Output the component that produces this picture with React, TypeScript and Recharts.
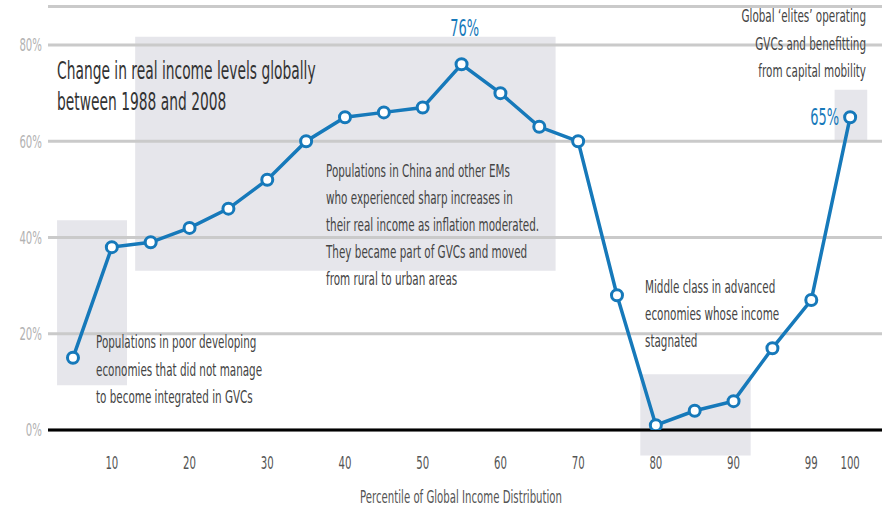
import React from "react"
import {
  LineChart,
  Line,
  XAxis,
  YAxis,
  CartesianGrid,
  ReferenceArea,
  LabelList,
} from "recharts"

// percentile of global income distribution (x categories)
const percentiles = [5, 10, 15, 20, 25, 30, 35, 40, 45, 50, 55, 60, 65, 70, 75, 80, 85, 90, 95, 99, 100]
// change in real income 1988-2008, %
const incomeChange = [15, 38, 39, 42, 46, 52, 60, 65, 66, 67, 76, 70, 63, 60, 28, 1, 4, 6, 17, 27, 65]
// labelled ticks on the x axis
const xTickLabels = [10, 20, 30, 40, 50, 60, 70, 80, 90, 99, 100]
const yTicks = [0, 20, 40, 60, 80]
// highlighted points
const labelledPoints = [55, 100]

// shaded boxes, in axis units (x = position index, y = %)
const boxes = [
  { x1: -0.41, x2: 1.39, y1: 9.3, y2: 43.6 },
  { x1: 1.6, x2: 12.42, y1: 33.1, y2: 81.7 },
  { x1: 14.6, x2: 17.44, y1: -5.3, y2: 11.6 },
  { x1: 19.6, x2: 20.44, y1: 59.9, y2: 70.7 },
]

const BLUE = "#1679ba"
const FONT = "'DejaVu Sans', sans-serif"
const SQUEEZE = 0.565 // fake a condensed face

const data = percentiles.map((p, i) => ({ pos: i, pct: p, value: incomeChange[i] }))
const xTicks = xTickLabels.map((p) => percentiles.indexOf(p))

const notes = [
  { x: 57, y: 79, size: 24.5, anchor: "start", fill: "#333", lines: ["Change in real income levels globally", "between 1988 and 2008"], gap: 31 },
  {
    x: 326,
    y: 177,
    size: 18.4,
    anchor: "start",
    fill: "#444",
    lines: [
      "Populations in China and other EMs",
      "who experienced sharp increases in",
      "their real income as inflation moderated.",
      "They became part of GVCs and moved",
      "from rural to urban areas",
    ],
    gap: 27,
  },
  {
    x: 96,
    y: 348,
    size: 18.4,
    anchor: "start",
    fill: "#444",
    lines: ["Populations in poor developing", "economies that did not manage", "to become integrated in GVCs"],
    gap: 27.5,
  },
  {
    x: 645,
    y: 293,
    size: 18.4,
    anchor: "start",
    fill: "#444",
    lines: ["Middle class in advanced", "economies whose income", "stagnated"],
    gap: 27,
  },
  {
    x: 866,
    y: 22,
    size: 18.4,
    anchor: "end",
    fill: "#444",
    lines: ["Global \u2018elites\u2019 operating", "GVCs and benefitting", "from capital mobility"],
    gap: 27.5,
  },
  { x: 461, y: 503, size: 18, anchor: "middle", fill: "#555", lines: ["Percentile of Global Income Distribution"], gap: 0 },
]

const CondText = ({ x, y, size, anchor = "start", fill = "#444", dy, children }: any) => (
  <text
    transform={`translate(${x},${y}) scale(${SQUEEZE},1)`}
    x={0}
    y={0}
    dy={dy}
    textAnchor={anchor}
    fontSize={size}
    fontFamily={FONT}
    fill={fill}
  >
    {children}
  </text>
)

const XTick = (props: any) => {
  const { x, y, payload } = props
  return (
    <CondText x={x} y={y} dy="0.71em" size={18} anchor="middle" fill="#555">
      {percentiles[payload.value]}
    </CondText>
  )
}

const YTick = (props: any) => {
  const { x, y, payload } = props
  return (
    <CondText x={x} y={y} dy="0.36em" size={18} anchor="end" fill="#b2b2b2">
      {payload.value}%
    </CondText>
  )
}

const PointLabel = (props: any) => {
  const { x, y, index } = props
  const pct = percentiles[index]
  if (!labelledPoints.includes(pct)) return null
  if (pct === 100) {
    return (
      <CondText x={x - 11} y={y + 8} size={23} anchor="end" fill={BLUE}>
        {incomeChange[index]}%
      </CondText>
    )
  }
  return (
    <CondText x={x + 3} y={y - 28} size={23} anchor="middle" fill={BLUE}>
      {incomeChange[index]}%
    </CondText>
  )
}

export default function App() {
  return (
    <div style={{ position: "absolute", left: 0, top: 0, width: 882, height: 511, background: "#fff" }}>
      <LineChart width={882} height={511} data={data} margin={{ top: 6.5, right: 0, bottom: 0, left: 0 }}>
        {boxes.map((b, i) => (
          <ReferenceArea
            key={i}
            x1={b.x1}
            x2={b.x2}
            y1={b.y1}
            y2={b.y2}
            fill="#e6e6eb"
            fillOpacity={1}
            stroke="none"
            ifOverflow="visible"
            zIndex={-200}
          />
        ))}
        <CartesianGrid horizontal vertical={false} stroke="#cacaca" strokeWidth={3} />
        <XAxis
          type="number"
          dataKey="pos"
          domain={[-0.643, 20.82]}
          ticks={xTicks}
          interval={0}
          height={81}
          tickLine={false}
          tickSize={0}
          tickMargin={26}
          axisLine={{ stroke: "#000", strokeWidth: 3 }}
          tick={<XTick />}
          allowDataOverflow
        />
        <YAxis
          width={48}
          domain={[0, 88]}
          ticks={yTicks}
          axisLine={false}
          tickLine={false}
          tickSize={0}
          tickMargin={6}
          tick={<YTick />}
          allowDataOverflow
        />
        <Line
          type="linear"
          dataKey="value"
          stroke={BLUE}
          strokeWidth={3.5}
          dot={{ r: 5.5, fill: "#fff", stroke: BLUE, strokeWidth: 3 }}
          isAnimationActive={false}
        >
          <LabelList dataKey="value" content={PointLabel} />
        </Line>
      </LineChart>
      <svg
        width={882}
        height={511}
        style={{ position: "absolute", left: 0, top: 0, pointerEvents: "none" }}
      >
        {notes.map((n, i) =>
          n.lines.map((line, j) => (
            <CondText key={`${i}-${j}`} x={n.x} y={n.y + j * n.gap} size={n.size} anchor={n.anchor} fill={n.fill}>
              {line}
            </CondText>
          ))
        )}
      </svg>
    </div>
  )
}
